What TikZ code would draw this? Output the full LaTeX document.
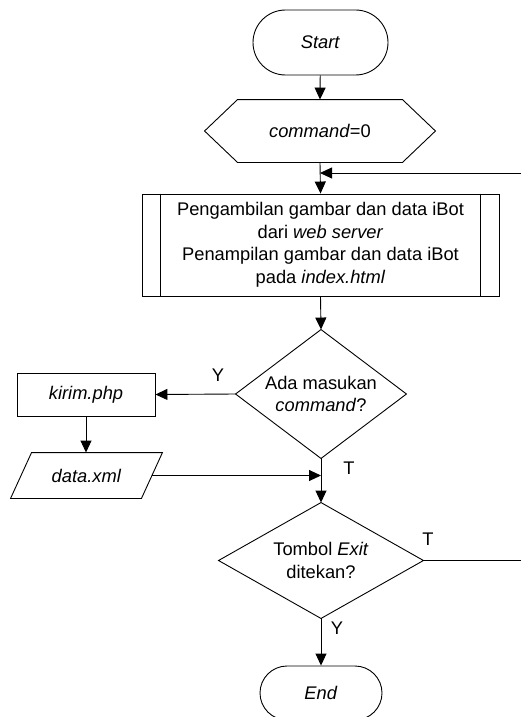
\documentclass[tikz,border=0pt]{standalone}
\usepackage{fontspec}
\setmainfont{Liberation Sans}
\usetikzlibrary{shapes.misc,arrows.meta}
\begin{document}
\begin{tikzpicture}[x=1pt,y=-1pt,
  font=\fontsize{18.3}{22.5}\selectfont,
  line width=0.9pt,
  term/.style={draw,rounded rectangle,inner sep=0pt},
  frame/.style={inner sep=0pt,align=center},
  boxed/.style={draw,inner sep=0pt,align=center},
  lbl/.style={inner sep=0pt},
  arr/.style={-{Triangle[length=12pt,width=11pt]}}]
\useasboundingbox (0,0) rectangle (520,717);
% nodes
\node[term,minimum width=135pt,minimum height=65pt] (start) at (320.5,42.5) {\textit{Start}};
\node[frame,minimum width=230pt,minimum height=62pt] (init) at (320,131) {\textit{command}=0};
\draw (init.west) -- ([xshift=33pt]init.north west) -- ([xshift=-33pt]init.north east)
  -- (init.east) -- ([xshift=-33pt]init.south east) -- ([xshift=33pt]init.south west) -- cycle;
\node[boxed,minimum width=357pt,minimum height=102pt] (proc) at (320.5,245)
  {Pengambilan gambar dan data iBot\\dari \textit{web server}\\Penampilan gambar dan data iBot\\pada \textit{index.html}};
\draw ([xshift=19pt]proc.north west) -- ([xshift=19pt]proc.south west);
\draw ([xshift=-19pt]proc.north east) -- ([xshift=-19pt]proc.south east);
\node[frame,minimum width=170pt,minimum height=128pt] (d1) at (321,394) {Ada masukan\\\textit{command}?};
\draw (d1.north) -- (d1.east) -- (d1.south) -- (d1.west) -- cycle;
\node[boxed,minimum width=138pt,minimum height=43pt] (kirim) at (86,394.5) {\textit{kirim.php}};
\node[frame,minimum width=151pt,minimum height=45pt] (data) at (86.5,475.5) {\textit{data.xml}};
\draw ([xshift=21pt]data.north west) -- (data.north east) -- ([xshift=-21pt]data.south east) -- (data.south west) -- cycle;
\node[frame,minimum width=204pt,minimum height=115pt] (d2) at (321,560.5) {Tombol \textit{Exit}\\ditekan?};
\draw (d2.north) -- (d2.east) -- (d2.south) -- (d2.west) -- cycle;
\node[term,minimum width=122pt,minimum height=54pt] (end) at (321,693) {\textit{End}};
% labels
\node[lbl] (ly1) at (218,375.5) {Y};
\node[lbl] (lt1) at (349,468.5) {T};
\node[lbl] (lt2) at (428,539.5) {T};
\node[lbl] (ly2) at (337,628.5) {Y};
% connectors
\coordinate (r1) at (523,560.5);
\coordinate (r2) at (523,173);
\draw[arr] (start) -- (init.north);
\draw[arr] (init.south) -- (proc.north);
\draw[arr] (d2.east) -- (r1) -- (r2) -- (init.south |- r2);
\draw[arr] (proc.south) -- (d1.north);
\draw[arr] (d1.west) -- (kirim.east);
\draw[arr] (kirim.south) -- (kirim.south |- data.north);
\draw[arr] ([xshift=-10.5pt]data.east) -- (d1.south |- data.east);
\draw[arr] (d1.south) -- (d2.north);
\draw[arr] (d2.south) -- (end.north);
\end{tikzpicture}
\end{document}
